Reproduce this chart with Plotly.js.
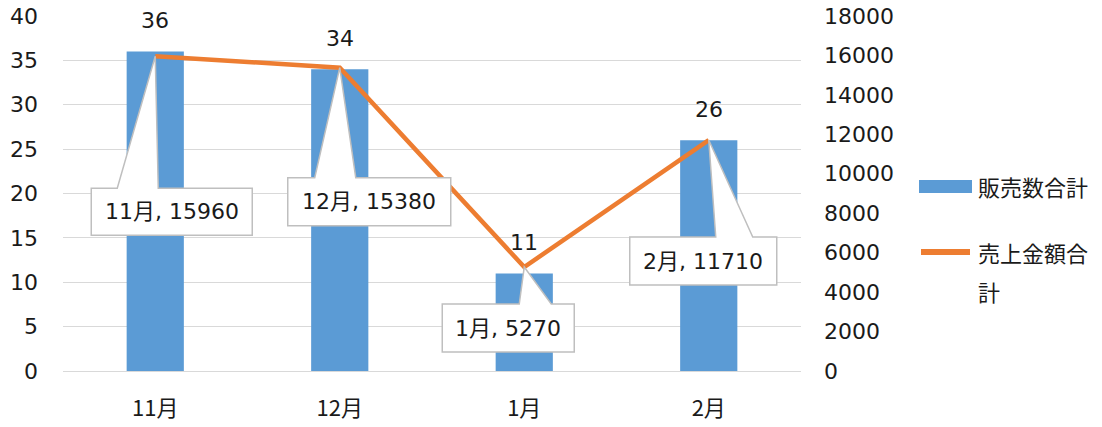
<!DOCTYPE html>
<html>
<head>
<meta charset="utf-8">
<script src="https://cdn.plot.ly/plotly-3.0.1.min.js"></script>
<style>html,body{margin:0;padding:0;background:#fff;}#chart{width:1102px;height:427px;}</style>
</head>
<body>
<div id="chart"></div>
<script>
// ---- data ----
const months = ['11月', '12月', '1月', '2月'];
const qty = [36, 34, 11, 26];            // 販売数合計 (left axis)
const sales = [15960, 15380, 5270, 11710]; // 売上金額合計 (right axis)
const qtyName = '販売数合計';
const salesName = '売上金額合計';

// ---- styling ----
const FONT = 'DejaVu Sans, Noto Sans CJK JP, sans-serif';
const BLUE = '#5B9BD5';
const ORANGE = '#ED7D31';
const TXT = '#1a1a1a';
const GRID = '#D9D9D9';

// callout geometry in pixels relative to each line point: [left, right, top, bottom, wedgeL, wedgeR]
const callouts = [
  [-64, 97, 132, 179, -38, 3],
  [-52, 111, 110, 158, -25, 16],
  [-82, 50, 37, 85, -5, 27],
  [-79, 68, 97, 145, 7, 44]
];

const traces = [
  {
    type: 'bar', x: months, y: qty, name: qtyName, width: 0.31,
    marker: {color: BLUE}, yaxis: 'y', showlegend: false, hoverinfo: 'none'
  },
  {
    type: 'scatter', mode: 'lines', x: months, y: sales, name: salesName, yaxis: 'y2',
    line: {color: ORANGE, width: 4.5}, showlegend: false, hoverinfo: 'none'
  }
];

const shapes = [];
const annotations = [];

// bar value labels
months.forEach((m, i) => {
  annotations.push({
    x: m, y: qty[i], xref: 'x', yref: 'y', text: String(qty[i]), showarrow: false,
    yanchor: 'middle', yshift: 31, font: {family: FONT, size: 22, color: TXT}
  });
});

// callouts for line values
months.forEach((m, i) => {
  const [l, r, t, b, wl, wr] = callouts[i];
  const path = `M${l},${-t} L${wl},${-t} L0,0 L${wr},${-t} L${r},${-t} L${r},${-b} L${l},${-b} Z`;
  shapes.push({
    type: 'path', xref: 'x', yref: 'y2', xsizemode: 'pixel', ysizemode: 'pixel',
    xanchor: i, yanchor: sales[i], path: path,
    fillcolor: '#ffffff', line: {color: '#BFBFBF', width: 1.5}, layer: 'above'
  });
  annotations.push({
    x: m, y: sales[i], xref: 'x', yref: 'y2', text: `${m}, ${sales[i]}`, showarrow: false,
    xanchor: 'center', yanchor: 'middle', xshift: (l + r) / 2, yshift: -(t + b) / 2,
    font: {family: FONT, size: 22, color: TXT}
  });
});

// custom legend (paper coords): plot area px 63..801 x, 16..371 y
const px = x => (x - 63) / 738;
const py = y => (371 - y) / 355;
shapes.push({type: 'rect', xref: 'paper', yref: 'paper', x0: px(919), x1: px(972), y0: py(180), y1: py(193),
  fillcolor: BLUE, line: {width: 0}});
shapes.push({type: 'line', xref: 'paper', yref: 'paper', x0: px(921), x1: px(970), y0: py(252), y1: py(252),
  line: {color: ORANGE, width: 6}});
annotations.push({xref: 'paper', yref: 'paper', x: px(976), y: py(188), xanchor: 'left', yanchor: 'middle',
  text: qtyName, showarrow: false, font: {family: FONT, size: 22, color: TXT}});
annotations.push({xref: 'paper', yref: 'paper', x: px(976), y: py(254), xanchor: 'left', yanchor: 'middle',
  text: salesName.slice(0, 5), showarrow: false, font: {family: FONT, size: 22, color: TXT}});
annotations.push({xref: 'paper', yref: 'paper', x: px(976), y: py(293), xanchor: 'left', yanchor: 'middle',
  text: salesName.slice(5), showarrow: false, font: {family: FONT, size: 22, color: TXT}});

const layout = {
  width: 1102, height: 427,
  margin: {l: 63, r: 301, t: 16, b: 56},
  paper_bgcolor: '#ffffff', plot_bgcolor: '#ffffff',
  showlegend: false,
  xaxis: {
    type: 'category', range: [-0.5, 3.5], showgrid: false, zeroline: false,
    showline: false, ticks: '', ticklabelstandoff: 22,
    tickfont: {family: 'Noto Sans CJK JP, sans-serif', size: 22, color: TXT}
  },
  yaxis: {
    range: [0, 40], dtick: 5, tick0: 0, showgrid: true, gridcolor: GRID, gridwidth: 1,
    zeroline: true, zerolinecolor: GRID, zerolinewidth: 1, showline: false, ticks: '',
    ticklabelstandoff: 24, tickfont: {family: FONT, size: 22, color: TXT}
  },
  yaxis2: {
    range: [0, 18000], dtick: 2000, tick0: 0, overlaying: 'y', side: 'right',
    tickformat: 'd', exponentformat: 'none',
    showgrid: false, zeroline: false, showline: false, ticks: '',
    ticklabelstandoff: 22, tickfont: {family: FONT, size: 22, color: TXT}
  },
  shapes: shapes,
  annotations: annotations
};

Plotly.newPlot('chart', traces, layout, {staticPlot: true, displayModeBar: false});
</script>
</body>
</html>
